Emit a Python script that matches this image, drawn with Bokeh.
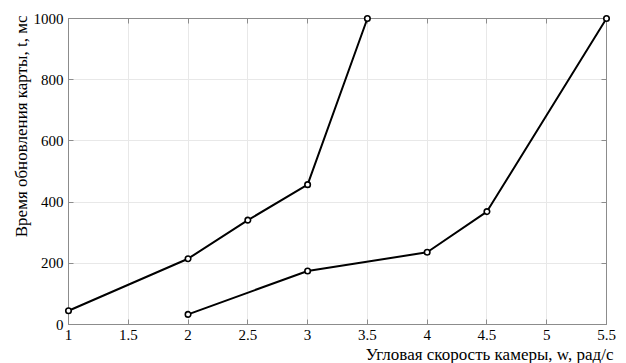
from bokeh.plotting import figure
from bokeh.models import LinearAxis, FixedTicker, Title, ColumnDataSource, Grid
from bokeh.embed import file_html
from bokeh.resources import INLINE

# Data
x1 = [1.0, 2.0, 2.5, 3.0, 3.5]
t1 = [45, 215, 341, 457, 1000]
x2 = [2.0, 3.0, 4.0, 4.5, 5.5]
t2 = [33, 175, 236, 369, 1000]

x_ticks = [1, 1.5, 2, 2.5, 3, 3.5, 4, 4.5, 5, 5.5]
x_tick_labels = ["1", "1.5", "2", "2.5", "3", "3.5", "4", "4.5", "5", "5.5"]
y_ticks = [0, 200, 400, 600, 800, 1000]
y_tick_labels = ["0", "200", "400", "600", "800", "1000"]

x_label = "Угловая скорость камеры, w, рад/с"
y_label = "Время обновления карты, t, мс"

FONT = "Liberation Serif"
AXIS_COLOR = "#8c8c8c"

p = figure(width=626, height=363, x_range=(1, 5.5), y_range=(0, 1000),
           output_backend="svg", toolbar_location=None,
           min_border_left=68, min_border_right=20, min_border_top=18,
           min_border_bottom=39, x_axis_location=None, y_axis_location=None)
p.background_fill_color = "white"
p.border_fill_color = "white"
p.outline_line_color = AXIS_COLOR
p.outline_line_width = 1


def style_axis(ax, show_labels):
    ax.axis_line_color = AXIS_COLOR
    ax.major_tick_line_color = AXIS_COLOR
    ax.major_tick_in = 5
    ax.major_tick_out = 0
    ax.minor_tick_line_color = None
    ax.major_label_text_font = FONT
    ax.major_label_text_font_size = "15px"
    ax.major_label_text_color = "black" if show_labels else None
    ax.major_label_standoff = 5


xb = LinearAxis(ticker=FixedTicker(ticks=x_ticks),
                major_label_overrides={t: l for t, l in zip(x_ticks, x_tick_labels)})
yl = LinearAxis(ticker=FixedTicker(ticks=y_ticks),
                major_label_overrides={t: l for t, l in zip(y_ticks, y_tick_labels)})
xt = LinearAxis(ticker=FixedTicker(ticks=x_ticks))
yr = LinearAxis(ticker=FixedTicker(ticks=y_ticks))
for ax, show in ((xb, True), (yl, True), (xt, False), (yr, False)):
    style_axis(ax, show)
for ax in (xt, yr):
    ax.major_label_text_font_size = "0px"
    ax.major_label_standoff = 0

p.add_layout(xb, "below")
p.add_layout(yl, "left")
p.add_layout(xt, "above")
p.add_layout(yr, "right")

p.add_layout(Grid(dimension=0, ticker=xb.ticker, grid_line_color="#e8e8e8"))
p.add_layout(Grid(dimension=1, ticker=yl.ticker, grid_line_color="#e8e8e8"))

p.add_layout(Title(text=x_label, align="right", offset=-7, text_font=FONT,
                   text_font_size="17px", text_font_style="normal",
                   text_color="black", standoff=0), "below")
p.add_layout(Title(text=y_label, align="right", offset=-3, text_font=FONT,
                   text_font_size="17px", text_font_style="normal",
                   text_color="black", standoff=0), "left")

for xs, ys in ((x1, t1), (x2, t2)):
    src = ColumnDataSource(dict(x=xs, y=ys))
    p.line("x", "y", source=src, line_color="black", line_width=2)
    p.scatter("x", "y", source=src, marker="circle", size=5.5,
              fill_color="white", line_color="black", line_width=1.6,
              level="overlay")

open("out.html", "w").write(file_html(p, INLINE))
